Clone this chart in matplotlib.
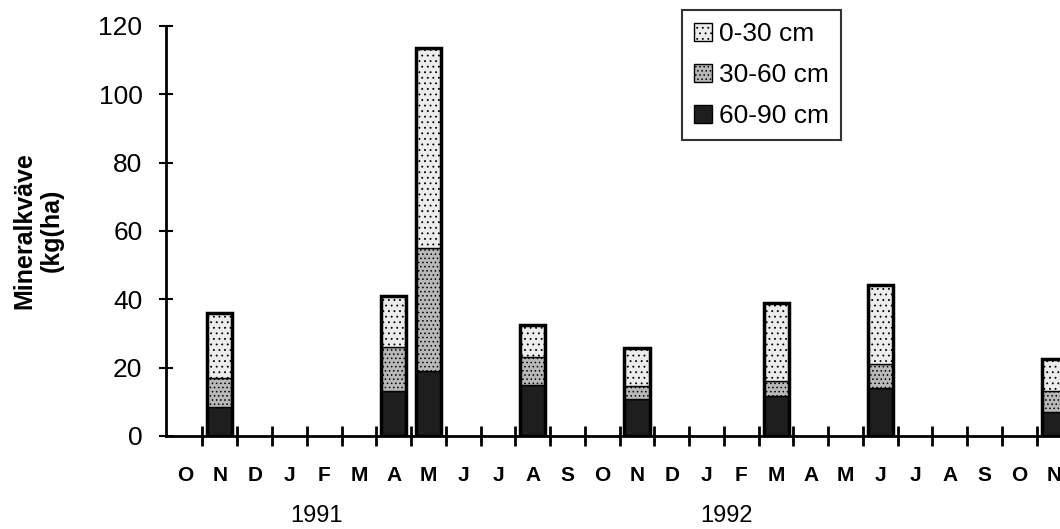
import numpy as np
import matplotlib
matplotlib.use('Agg')
import matplotlib.pyplot as plt
from matplotlib.patches import Patch

plt.rcParams['font.family'] = ['Liberation Sans', 'DejaVu Sans']
plt.rcParams['hatch.linewidth'] = 0.6

months = ['O', 'N', 'D', 'J', 'F', 'M', 'A', 'M', 'J', 'J', 'A', 'S', 'O',
          'N', 'D', 'J', 'F', 'M', 'A', 'M', 'J', 'J', 'A', 'S', 'O', 'N']
# month index of each sampling date (Oct 1990 = 0)
sample_idx = [1, 6, 7, 10, 13, 17, 20, 25]
d60_90 = [8.5, 13, 19, 15, 10.8, 11.7, 14, 7]
d30_60 = [8.5, 13, 36, 8, 3.8, 4.3, 7, 6.2]
d0_30 = [19, 15, 58.5, 9.5, 11, 23, 23.2, 9.3]
layer_labels = ['0-30 cm', '30-60 cm', '60-90 cm']
years = ['1991', '1992']
year_pos = [3.77, 15.57]

fig = plt.figure(figsize=(10.6, 5.29), dpi=100)
ax = fig.add_axes([0.1566, 0.176, 0.85, 0.775])

x = np.array(sample_idx)
a = np.array(d60_90)
b = np.array(d30_60)
c = np.array(d0_30)
w = 0.72
styles = {
    '0-30 cm': dict(facecolor='#ececec', hatch='...'),
    '30-60 cm': dict(facecolor='#b8b8b8', hatch='....'),
    '60-90 cm': dict(facecolor='#1e1e1e', hatch=None),
}
ax.bar(x, a, w, edgecolor='black', linewidth=1, **styles['60-90 cm'])
ax.bar(x, b, w, bottom=a, edgecolor='black', linewidth=1, **styles['30-60 cm'])
ax.bar(x, c, w, bottom=a + b, edgecolor='black', linewidth=1, **styles['0-30 cm'])
ax.bar(x, a + b + c, w, fill=False, edgecolor='black', linewidth=2.5)

ax.set_xlim(-0.55, 25.37)
ax.set_ylim(0, 120)
ax.spines['top'].set_visible(False)
ax.spines['right'].set_visible(False)
ax.spines['left'].set_linewidth(2)
ax.spines['bottom'].set_linewidth(2)

ax.set_yticks(range(0, 121, 20))
ax.tick_params(axis='y', direction='inout', length=10, width=1.5, labelsize=19, pad=12)
ax.set_xticks(np.arange(0.5, 25.5, 1))
ax.set_xticklabels([])
ax.tick_params(axis='x', which='major', direction='inout', length=14, width=2)
ax.set_xticks(np.arange(len(months)), minor=True)
ax.set_xticklabels(months, minor=True, fontsize=15, fontweight='bold')
ax.tick_params(axis='x', which='minor', length=0, pad=22)

for yr, p in zip(years, year_pos):
    ax.text(p, -0.195, yr, transform=ax.get_xaxis_transform(), ha='center',
            va='center', fontsize=17)

fig.text(0.036, 0.565, 'Mineralkväve\n(kg(ha)', rotation=90, ha='center',
         va='center', fontsize=18, fontweight='bold', linespacing=1.15)

handles = [Patch(edgecolor='black', linewidth=1, label=l, **styles[l]) for l in layer_labels]
leg = ax.legend(handles=handles, loc='upper left', bbox_to_anchor=(0.558, 1.07),
                frameon=True, fancybox=False, edgecolor='black', fontsize=19,
                handlelength=0.7, handleheight=0.7, handletextpad=0.25,
                labelspacing=0.64, borderpad=0.45)
leg.get_frame().set_linewidth(1.5)

fig.savefig('out.png', dpi=100)
